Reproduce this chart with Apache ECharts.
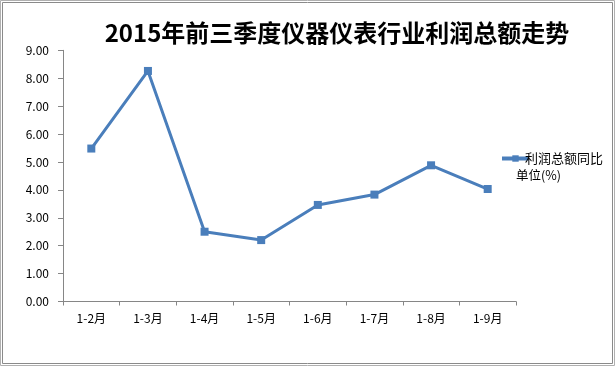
<!DOCTYPE html>
<html><head><meta charset="utf-8">
<script src="https://cdn.jsdelivr.net/npm/echarts@6/dist/echarts.min.js"></script>
<style>html,body{margin:0;padding:0;background:#fff}#c{width:615px;height:366px}</style>
</head><body><div id="c"></div>
<script>
var categories = ['1-2月','1-3月','1-4月','1-5月','1-6月','1-7月','1-8月','1-9月'];
var profitYoY = [5.48, 8.26, 2.50, 2.20, 3.46, 3.83, 4.88, 4.03];
var yTicks = {min: 0, max: 9, interval: 1};
var titleText = '2015年前三季度仪器仪表行业利润总额走势';
var seriesName = '利润总额同比';
var unitText = '单位(%)';

var ff = '"Noto Sans CJK SC", "Liberation Sans", sans-serif';
var chart = echarts.init(document.getElementById('c'), null, {renderer: 'canvas'});
chart.setOption({
  animation: false,
  backgroundColor: '#fff',
  title: {
    text: titleText, left: 332, top: 16, textAlign: 'center',
    textStyle: {fontFamily: ff, fontSize: 24, fontWeight: 'bold', color: '#000'}
  },
  legend: {
    data: [{name: seriesName}],
    left: 495, top: 147, itemWidth: 27, itemHeight: 8, itemGap: 0,
    lineStyle: {width: 4},
    textStyle: {fontFamily: ff, fontSize: 13, color: '#000', padding: [0,0,0,-9]}
  },
  graphic: [
    {type: 'rect', shape: {x: 0.5, y: 0.5, width: 614, height: 365}, style: {fill: 'none', stroke: '#b0b0b0', lineWidth: 1}},
    {type: 'rect', shape: {x: 2.5, y: 2.5, width: 610, height: 361}, style: {fill: 'none', stroke: '#8a8a8a', lineWidth: 1}},
    {type: 'text', left: 516, top: 169, style: {text: unitText, font: '12.5px ' + ff, fill: '#000'}}
  ],
  grid: {left: 63, right: 99, top: 50.3, bottom: 64.5, containLabel: false},
  xAxis: {
    type: 'category', data: categories, boundaryGap: true,
    axisLine: {lineStyle: {color: '#868686', width: 1}},
    axisTick: {show: true, length: 4, alignWithLabel: false, lineStyle: {color: '#868686'}},
    axisLabel: {fontFamily: ff, fontSize: 12, color: '#000', margin: 11}
  },
  yAxis: {
    type: 'value', min: yTicks.min, max: yTicks.max, interval: yTicks.interval,
    axisLine: {show: true, lineStyle: {color: '#868686', width: 1}},
    axisTick: {show: true, length: 5, lineStyle: {color: '#868686'}},
    splitLine: {show: false},
    axisLabel: {fontFamily: ff, fontSize: 12, color: '#000', margin: 14,
      formatter: function(v){return v.toFixed(2);}}
  },
  series: [{
    name: seriesName, type: 'line', data: profitYoY,
    symbol: 'rect', symbolSize: 8,
    lineStyle: {color: '#4a7ebb', width: 3},
    itemStyle: {color: '#4a7ebb'}
  }]
});
</script></body></html>
